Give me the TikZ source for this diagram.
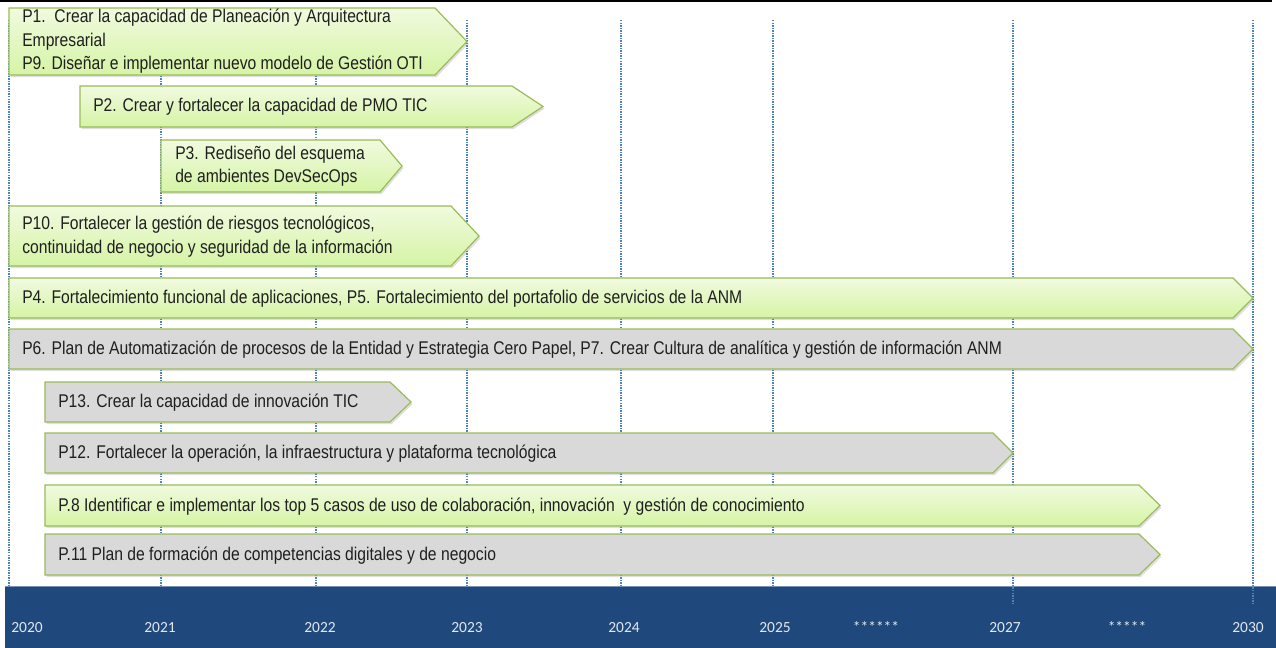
\documentclass[tikz,border=0pt]{standalone}
\usepackage{fontspec}
\setmainfont[FakeStretch=0.852]{Liberation Sans}
\newfontfamily\yearfont{Carlito}
\usetikzlibrary{shadows}
\definecolor{barblue}{HTML}{1F497D}
\definecolor{gridblue}{HTML}{4F81BD}
\definecolor{edgegreen}{HTML}{9BBB59}
\definecolor{lightgreen}{HTML}{F1FADF}
\definecolor{midgreen}{HTML}{D5F4A5}
\definecolor{boxgray}{HTML}{D9D9D9}
\definecolor{yeartext}{HTML}{E3E8EF}
\tikzset{
  phase/.style={draw=edgegreen,line width=0.9pt,drop shadow={shadow xshift=1.2pt,shadow yshift=-1.6pt,opacity=0.25}},
  greenphase/.style={phase,top color=lightgreen,bottom color=midgreen},
  grayphase/.style={phase,fill=boxgray},
  plabel/.style={anchor=west,align=left,inner sep=0pt,font=\fontsize{13.8}{17.6}\selectfont,text=black!88},
  yearlabel/.style={font=\yearfont\fontsize{11.6}{13}\selectfont,text=yeartext,inner sep=0pt},
  gridline/.style={gridblue,line width=1.1pt,dash pattern=on 1.1pt off 0.8pt}
}

\begin{document}
\begin{tikzpicture}[x=0.75pt,y=-0.75pt]
  \useasboundingbox (0,0) rectangle (1276,648);
  \draw[line width=1.5pt] (0,1.5) -- (1272,1.5);
  % years grid
  \foreach \gx in {9,161,316,467,621,773}
    \draw[gridline] (\gx,20) -- (\gx,587);
  \fill[barblue] (5,586) rectangle (1276,648);
  \draw[barblue!60!white,line width=0.6pt] (5,586) -- (1276,586);
  \foreach \gx in {1013,1253}
    \draw[gridline] (\gx,20) -- (\gx,604);
  \node[yearlabel] (y2020) at (27,628) {2020};
  \node[yearlabel] (y2021) at (160,628) {2021};
  \node[yearlabel] (y2022) at (320,628) {2022};
  \node[yearlabel] (y2023) at (467,628) {2023};
  \node[yearlabel] (y2024) at (624,628) {2024};
  \node[yearlabel] (y2025) at (775,628) {2025};
  \node[yearlabel] (gap1) at (876,627) {******};
  \node[yearlabel] (y2027) at (1005,628) {2027};
  \node[yearlabel] (gap2) at (1127,627) {*****};
  \node[yearlabel] (y2030) at (1248,628) {2030};

  % projects
  \draw[greenphase] (9,8) -- (435,8) -- (467,41.5) -- (435,75) -- (9,75) -- cycle;
  \node[plabel] (p1) at (22,41.5) {P1.\ \ Crear la capacidad de Planeación y Arquitectura\\Empresarial\\P9. Diseñar e implementar nuevo modelo de Gestión OTI};
  \draw[greenphase] (80,86) -- (512,86) -- (543,106.5) -- (512,127) -- (80,127) -- cycle;
  \node[plabel] (p2) at (93,107) {P2. Crear y fortalecer la capacidad de PMO TIC};
  \draw[greenphase] (161,140) -- (380,140) -- (402,166) -- (380,192) -- (161,192) -- cycle;
  \node[plabel] (p3) at (175,166.5) {P3. Rediseño del esquema\\de ambientes DevSecOps};
  \draw[greenphase] (9,206) -- (451,206) -- (479,236) -- (451,266) -- (9,266) -- cycle;
  \node[plabel] (p10) at (22,236.5) {P10. Fortalecer la gestión de riesgos tecnológicos,\\continuidad de negocio y seguridad de la información};
  \draw[greenphase] (9,278) -- (1233,278) -- (1253,298) -- (1233,318) -- (9,318) -- cycle;
  \node[plabel] (p4) at (22,299) {P4. Fortalecimiento funcional de aplicaciones, P5. Fortalecimiento del portafolio de servicios de la ANM};
  \draw[grayphase] (9,329) -- (1233,329) -- (1253,349) -- (1233,369) -- (9,369) -- cycle;
  \node[plabel] (p6) at (22,350) {P6. Plan de Automatización de procesos de la Entidad y Estrategia Cero Papel, P7. Crear Cultura de analítica y gestión de información ANM};
  \draw[grayphase] (45,382) -- (390,382) -- (411,402) -- (390,422) -- (45,422) -- cycle;
  \node[plabel] (p13) at (58,403) {P13. Crear la capacidad de innovación TIC};
  \draw[grayphase] (45,433) -- (993,433) -- (1013,453) -- (993,473) -- (45,473) -- cycle;
  \node[plabel] (p12) at (58,454) {P12. Fortalecer la operación, la infraestructura y plataforma tecnológica};
  \draw[greenphase] (45,485) -- (1139,485) -- (1160,505.5) -- (1139,526) -- (45,526) -- cycle;
  \node[plabel] (p8) at (58,506.5) {P.8 Identificar e implementar los top 5 casos de uso de colaboración, innovación\ \ y gestión de conocimiento};
  \draw[grayphase] (45,534) -- (1139,534) -- (1160,554.5) -- (1139,575) -- (45,575) -- cycle;
  \node[plabel] (p11) at (58,555.5) {P.11 Plan de formación de competencias digitales y de negocio};
\end{tikzpicture}
\end{document}
